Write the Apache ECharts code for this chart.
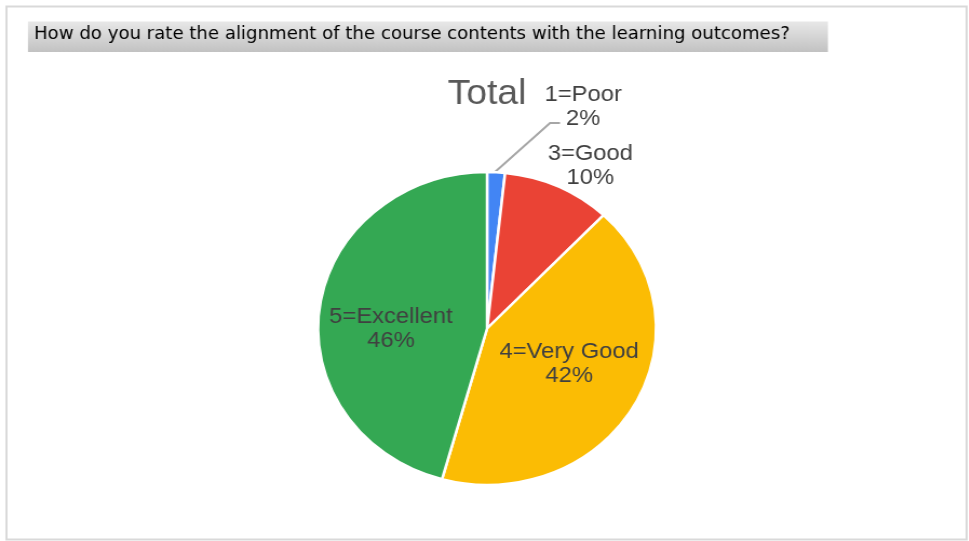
<!DOCTYPE html>
<html lang="en">

<head>
    <meta charset="UTF-8">
    <title>pie</title>
    <script src="https://cdn.jsdelivr.net/npm/echarts@6/dist/echarts.min.js"></script>
    <style>
        html, body { margin: 0; padding: 0; background: #fff; overflow: hidden; }
        /* the original picture is stretched sideways, so the chart is too */
        #main {
            width: 897px;
            height: 541px;
            transform: scaleX(1.08);
            transform-origin: 0 0;
        }
    </style>
</head>

<body>
    <div id="main"></div>
    <script>
        // survey answers, share of respondents (%)
        var ratingNames = ['1=Poor', '3=Good', '4=Very Good', '5=Excellent'];
        var ratingValues = [1.7, 10.4, 42.2, 45.7];
        var ratingColors = ['#4285F4', '#EA4335', '#FBBC04', '#34A853'];

        var questionText = 'How do you rate the alignment of the course contents with the learning outcomes?';
        var chartTitle = 'Total';

        // label anchors (in the unstretched chart space)
        var labelSpots = [
            { x: 540, y: 106.5, align: 'center', verticalAlign: 'middle',
              labelLinePoints: [[458.3, 172], [509.3, 123], [518.5, 123]] },
            { x: 546.6, y: 165.5, align: 'center', verticalAlign: 'middle' },
            { x: 527, y: 364, align: 'center', verticalAlign: 'middle' },
            { x: 362, y: 328.5, align: 'center', verticalAlign: 'middle' }
        ];

        var pieData = [];
        for (var i = 0; i < ratingNames.length; i++) {
            var item = {
                name: ratingNames[i],
                value: ratingValues[i],
                itemStyle: { color: ratingColors[i] }
            };
            if (i === 0) {
                item.label = { position: 'outside' };
                item.labelLine = { show: true };
            } else if (i === 1) {
                item.label = { position: 'outside' };
                item.labelLine = { show: false };
            } else {
                item.label = { position: 'inside' };
                item.labelLine = { show: false };
            }
            pieData.push(item);
        }

        var myChart = echarts.init(document.getElementById('main'));
        var option = {
            animation: false,
            title: {
                text: chartTitle,
                left: 446,
                top: 72,
                textAlign: 'center',
                textStyle: {
                    fontFamily: 'Liberation Sans',
                    fontSize: 34.5,
                    fontWeight: 'normal',
                    color: '#595959'
                }
            },
            graphic: [
                {
                    type: 'rect',
                    shape: { x: 6, y: 6.5, width: 889, height: 533 },
                    style: { fill: 'none', stroke: '#d9d9d9', lineWidth: 2 },
                    silent: true
                },
                {
                    type: 'rect',
                    shape: { x: 25.9, y: 21.5, width: 740.7, height: 30.5 },
                    style: {
                        fill: new echarts.graphic.LinearGradient(0, 0, 0, 1, [
                            { offset: 0, color: '#e8e8e8' },
                            { offset: 1, color: '#c2c2c2' }
                        ])
                    },
                    silent: true
                },
                {
                    type: 'text',
                    x: 31.5,
                    y: 35,
                    style: {
                        text: questionText,
                        fontFamily: 'DejaVu Sans',
                        fontSize: 16.8,
                        verticalAlign: 'middle',
                        fill: '#000'
                    },
                    silent: true
                }
            ],
            series: [
                {
                    type: 'pie',
                    center: [451, 328.5],
                    radius: 156.5,
                    startAngle: 90,
                    clockwise: true,
                    percentPrecision: 0,
                    itemStyle: {
                        borderColor: '#fff',
                        borderWidth: 2.5
                    },
                    label: {
                        formatter: '{b}\n{d}%',
                        fontFamily: 'Liberation Sans',
                        fontSize: 22,
                        lineHeight: 24,
                        color: '#404040'
                    },
                    labelLine: {
                        length: 20,
                        length2: 8,
                        lineStyle: { color: '#a6a6a6', width: 2 }
                    },
                    labelLayout: function (params) {
                        return labelSpots[params.dataIndex];
                    },
                    data: pieData
                }
            ]
        };
        myChart.setOption(option);
    </script>
</body>

</html>
